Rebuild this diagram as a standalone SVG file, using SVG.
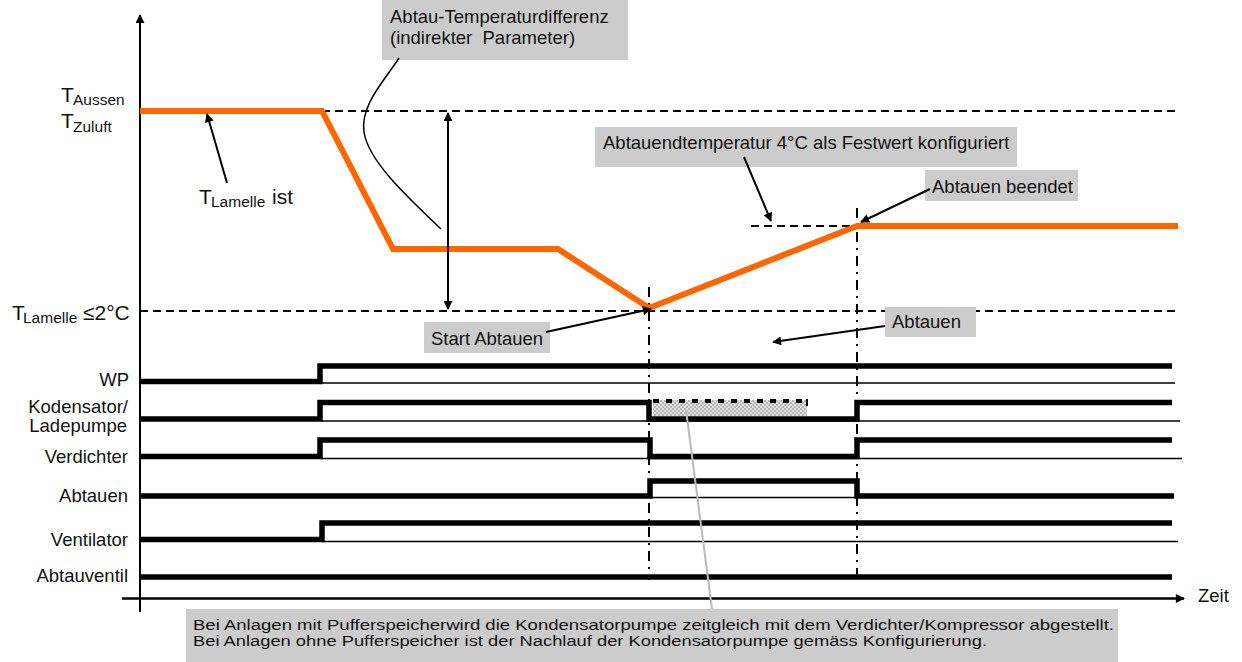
<svg xmlns="http://www.w3.org/2000/svg" width="1242" height="662" viewBox="0 0 1242 662">
<style>
text{font-family:"Liberation Sans",Arial,sans-serif;fill:#111}
.lbl{font-size:18.5px}
.big{font-size:21px}
.sub{font-size:15.5px}
.box{fill:#cccccc}
.dash{stroke:#000;stroke-width:2;stroke-dasharray:8 5;fill:none}
.dd{stroke:#000;stroke-width:2;stroke-dasharray:10 6 2 6;fill:none}
.thick{stroke:#000;stroke-width:5.5;fill:none;stroke-linejoin:miter}
.thin{stroke:#000;stroke-width:1.5;fill:none}
.ptr{stroke:#000;stroke-width:2;fill:none;marker-end:url(#ah)}
</style>
<defs>
<marker id="ah" viewBox="0 0 10 10" refX="9" refY="5" markerWidth="11" markerHeight="9" markerUnits="userSpaceOnUse" orient="auto"><path d="M0,0 L10,5 L0,10 z" fill="#000"/></marker>
<marker id="ahs" viewBox="0 0 10 10" refX="1" refY="5" markerWidth="11" markerHeight="9" markerUnits="userSpaceOnUse" orient="auto"><path d="M10,0 L0,5 L10,10 z" fill="#000"/></marker>
<pattern id="chk" width="4" height="4" patternUnits="userSpaceOnUse"><rect width="4" height="4" fill="#e2e2e2"/><rect width="2" height="2" fill="#b5b5b5"/><rect x="2" y="2" width="2" height="2" fill="#b5b5b5"/></pattern>
</defs>

<g id="axes">
<line x1="140" y1="612" x2="140" y2="15" stroke="#000" stroke-width="2" marker-end="url(#ah)"/>
<line x1="122" y1="598.5" x2="1184" y2="598.5" stroke="#000" stroke-width="2.5" marker-end="url(#ah)"/>
<text class="lbl" x="1198" y="602">Zeit</text>
</g>

<g id="guides">
<line class="dash" x1="322" y1="111" x2="1180" y2="111"/>
<line class="dash" x1="140" y1="311" x2="1180" y2="311"/>
<line class="dash" x1="751" y1="226" x2="857" y2="226"/>
<line class="dd" x1="649" y1="287" x2="649" y2="580"/>
<line class="dd" x1="857" y1="208" x2="857" y2="580"/>
</g>

<g id="temperature-curve">
<polyline points="140,111 322,111 393,249 558,249 649,308 857,226 1178,226" fill="none" stroke="#ff6600" stroke-width="6" stroke-linejoin="miter"/>
</g>

<g id="axis-labels">
<text class="big" x="61" y="102">T</text><text class="sub" x="73" y="105">Aussen</text>
<text class="big" x="61" y="128">T</text><text class="sub" x="73" y="132">Zuluft</text>
<text class="big" x="12" y="320">T</text><text class="sub" x="23" y="323">Lamelle</text><text class="big" x="83" y="320">≤2°C</text>
</g>

<g id="label-lamelle-ist">
<text class="big" x="199" y="204">T</text><text class="sub" x="211" y="207">Lamelle</text><text class="big" x="272" y="204">ist</text>
</g>

<g id="box-differenz">
<rect class="box" x="382" y="0" width="246" height="60"/>
<text class="lbl" x="390" y="23">Abtau-Temperaturdifferenz</text>
<text class="lbl" x="390" y="44" xml:space="preserve">(indirekter  Parameter)</text>
</g>

<g id="box-endtemp">
<rect class="box" x="595" y="127" width="422" height="40"/>
<text class="lbl" x="603" y="149">Abtauendtemperatur 4°C als Festwert konfiguriert</text>
</g>

<g id="box-beendet">
<rect class="box" x="925" y="170" width="153" height="31"/>
<text class="lbl" x="932" y="193">Abtauen beendet</text>
</g>

<g id="box-abtauen">
<rect class="box" x="885" y="307" width="91" height="30"/>
<text class="lbl" x="892" y="328">Abtauen</text>
</g>

<g id="box-start">
<rect class="box" x="424" y="322" width="126" height="31"/>
<text class="lbl" x="431" y="345">Start Abtauen</text>
</g>

<g id="box-note">
<rect class="box" x="186" y="609" width="932" height="53"/>
<text x="193" y="630" font-size="15.5" textLength="921" lengthAdjust="spacingAndGlyphs">Bei Anlagen mit Pufferspeicherwird die Kondensatorpumpe zeitgleich mit dem Verdichter/Kompressor abgestellt.</text>
<text x="193" y="646" font-size="15.5" textLength="794" lengthAdjust="spacingAndGlyphs">Bei Anlagen ohne Pufferspeicher ist der Nachlauf der Kondensatorpumpe gemäss Konfigurierung.</text>
</g>

<g id="signal-labels" class="lbl" text-anchor="end">
<text x="129" y="386" text-anchor="end" class="lbl">WP</text>
<text x="128" y="413" text-anchor="end" class="lbl">Kodensator/</text>
<text x="127" y="432" text-anchor="end" class="lbl">Ladepumpe</text>
<text x="128" y="463" text-anchor="end" class="lbl">Verdichter</text>
<text x="128" y="502" text-anchor="end" class="lbl">Abtauen</text>
<text x="128" y="546" text-anchor="end" class="lbl">Ventilator</text>
<text x="128" y="582" text-anchor="end" class="lbl">Abtauventil</text>
</g>

<g id="signal-wp">
<line class="thin" x1="321" y1="383" x2="1175" y2="383"/>
<path class="thick" d="M140,381.5 H320 V366 H1172"/>
</g>
<g id="signal-kondensator">
<rect x="653" y="400" width="154" height="16" fill="url(#chk)"/>
<line x1="653" y1="401" x2="807" y2="401" stroke="#000" stroke-width="4" stroke-dasharray="6 7"/>
<line x1="807" y1="399" x2="807" y2="406" stroke="#000" stroke-width="2"/>
<line class="thin" x1="321" y1="421" x2="1180" y2="421"/>
<path class="thick" d="M140,419 H320 V402.5 H649 V419 H857 V402.5 H1172"/>
</g>
<g id="signal-verdichter">
<line class="thin" x1="321" y1="458.5" x2="1182" y2="458.5"/>
<path class="thick" d="M140,456.5 H320 V440 H650 V456.5 H857 V440 H1172"/>
</g>
<g id="signal-abtauen">
<line class="thin" x1="650" y1="497.5" x2="857" y2="497.5"/>
<path class="thick" d="M140,496 H650 V481 H857 V496 H1174"/>
</g>
<g id="signal-ventilator">
<line class="thin" x1="322" y1="541.5" x2="1178" y2="541.5"/>
<path class="thick" d="M140,539.5 H322 V523 H1172"/>
</g>
<g id="signal-abtauventil">
<path class="thick" d="M140,577 H1172"/>
</g>

<g id="connectors">
<path d="M399,58 C385,80 360,105 364,132 C368,160 405,195 441,229" fill="none" stroke="#000" stroke-width="1.5"/>
<line x1="448" y1="113" x2="448" y2="309" stroke="#000" stroke-width="2" marker-start="url(#ahs)" marker-end="url(#ah)"/>
<line class="ptr" x1="227" y1="183" x2="207" y2="114"/>
<line class="ptr" x1="744" y1="157" x2="771" y2="221"/>
<line class="ptr" x1="930" y1="189" x2="861" y2="222"/>
<line class="ptr" x1="885" y1="326" x2="773" y2="342"/>
<line class="ptr" x1="546" y1="332" x2="651" y2="309"/>
<line x1="686" y1="410" x2="712" y2="609" stroke="#bbbbbb" stroke-width="2"/>
</g>
</svg>
